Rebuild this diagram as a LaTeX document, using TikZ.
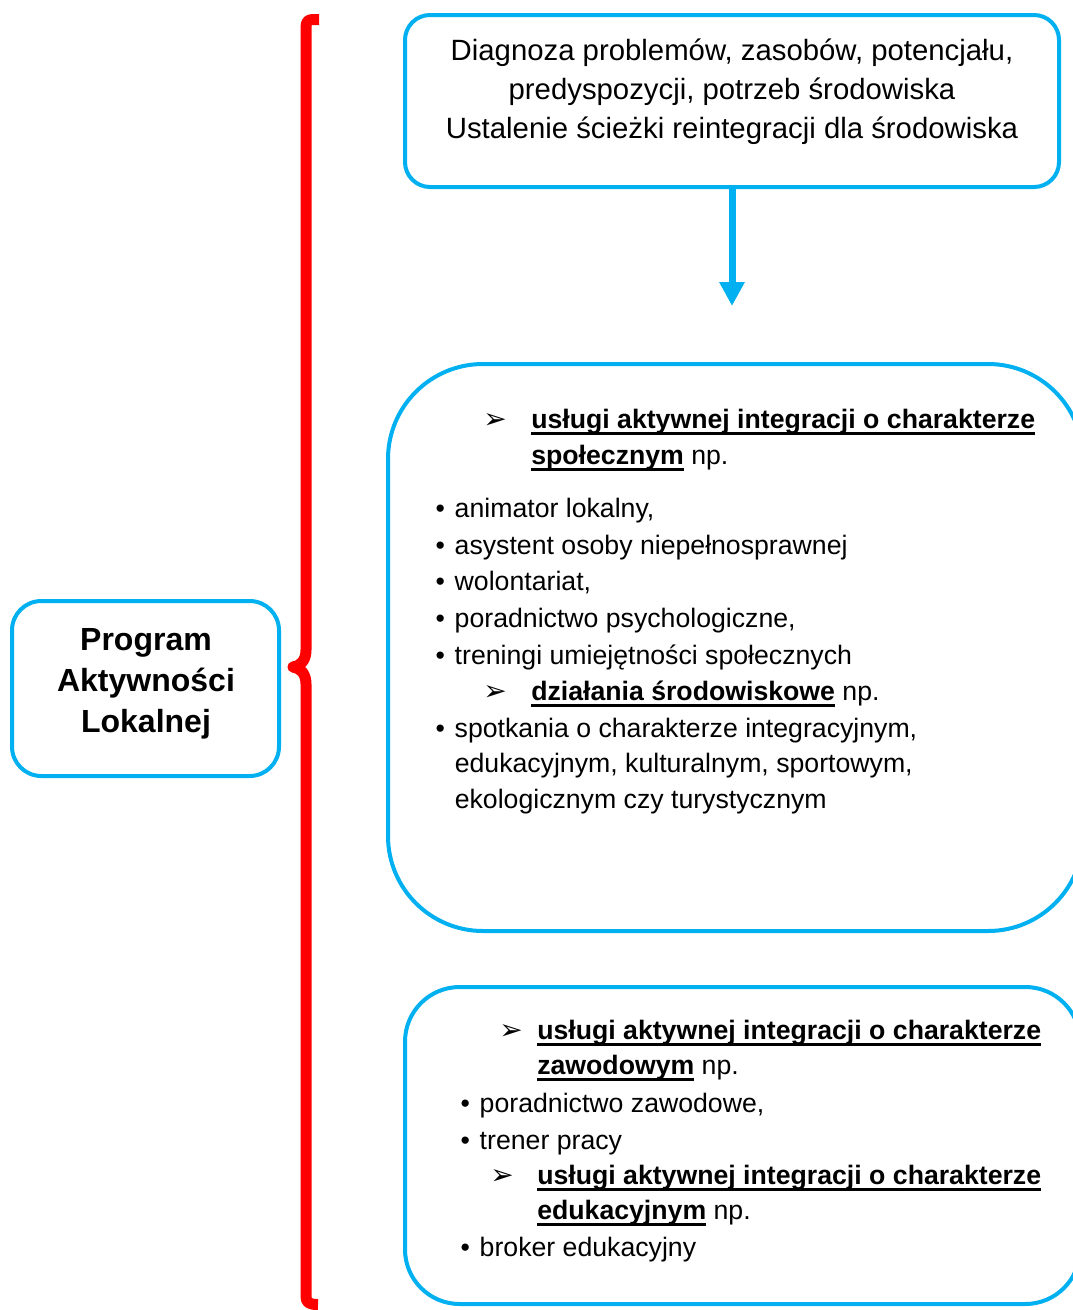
\documentclass[tikz,border=0pt]{standalone}
\usepackage{fontspec}
\setmainfont{Liberation Sans}
\newfontfamily\dv{DejaVu Sans}
\usetikzlibrary{arrows.meta}
\definecolor{cy}{RGB}{0,176,240}
\definecolor{rd}{RGB}{255,0,0}
\newcommand{\arr}{{\dv\fontsize{21}{24}\selectfont ➢}}
\newcommand{\bul}{\makebox[14.4pt][l]{•}}
\newcommand{\hd}[1]{{\bfseries\setbox0\hbox{#1}\rlap{\rule[-5pt]{\wd0}{1.8pt}}\box0}}
\begin{document}
\begin{tikzpicture}[x=0.75pt,y=-0.75pt,
  box/.style={draw=cy, line width=3pt, rounded corners=#1, inner sep=0pt},
  ttop/.style={font=\fontsize{22}{26}\selectfont, inner sep=0pt, anchor=base},
  tleft/.style={font=\fontsize{24}{28}\selectfont\bfseries, inner sep=0pt, anchor=base},
  tl/.style={font=\fontsize{20}{24}\selectfont, inner sep=0pt, anchor=base west},
  ta/.style={inner sep=0pt, anchor=base west}]
\useasboundingbox (0,0) rectangle (1073,1310);
\clip (0,0) rectangle (1073,1310);

% boxes
\node[box=18.75pt, minimum width=490.5pt, minimum height=129pt] (diag) at (732,101) {};
\node[box=22pt, minimum width=200.25pt, minimum height=131.25pt] (pal) at (145.5,688.5) {};
\node[box=71.25pt, minimum width=521.25pt, minimum height=425.25pt] (mid) at (735.5,647.5) {};
\node[box=41pt, minimum width=506.25pt, minimum height=237.75pt] (bot) at (742.5,1145.5) {};

% arrow
\coordinate (arrend) at (732,306);
\draw[cy, line width=5.25pt, -{Triangle[width=18pt,length=18pt]}] (diag.south) -- (arrend);

% brace
\draw[rd, line width=8.25pt, line join=round]
  (319,19.5) -- (313,19.5) .. controls (307.5,19.5) and (306,22) .. (306,28)
  -- (306,650) .. controls (306,661) and (300,666) .. (293,667)
  .. controls (300,668) and (306,673) .. (306,684)
  -- (306,1296) .. controls (306,1302) and (308,1304.5) .. (318,1304.5);

% top box text
\node[ttop] (d1) at (732,60) {Diagnoza problemów, zasobów, potencjału,};
\node[ttop] (d2) at (732,99) {predyspozycji, potrzeb środowiska};
\node[ttop] (d3) at (732,138) {Ustalenie ścieżki reintegracji dla środowiska};

% left box text
\node[tleft] (p1) at (146,650) {Program};
\node[tleft] (p2) at (146,691) {Aktywności};
\node[tleft] (p3) at (146,732) {Lokalnej};

% middle box
\node[ta] (ma1) at (483,428) {\arr};
\node[tl] (mh1) at (531,428) {\hd{usługi aktywnej integracji o charakterze}};
\node[tl] (mh1b) at (531,464) {\hd{społecznym} np.};
\node[tl] (mb1) at (435.3,517) {\bul animator lokalny,};
\node[tl] (mb2) at (435.3,554) {\bul asystent osoby niepełnosprawnej};
\node[tl] (mb3) at (435.3,590) {\bul wolontariat,};
\node[tl] (mb4) at (435.3,627) {\bul poradnictwo psychologiczne,};
\node[tl] (mb5) at (435.3,664) {\bul treningi umiejętności społecznych};
\node[ta] (ma2) at (483,700) {\arr};
\node[tl] (mh2) at (531,700) {\hd{działania środowiskowe} np.};
\node[tl] (mb6) at (435.3,737) {\bul spotkania o charakterze integracyjnym,};
\node[tl] (mb6b) at (454.5,772) {edukacyjnym, kulturalnym, sportowym,};
\node[tl] (mb6c) at (454.5,808) {ekologicznym czy turystycznym};

% bottom box
\node[ta] (ba1) at (499,1039) {\arr};
\node[tl] (bh1) at (537,1039) {\hd{usługi aktywnej integracji o charakterze}};
\node[tl] (bh1b) at (537,1074) {\hd{zawodowym} np.};
\node[tl] (bb1) at (460.3,1112) {\bul poradnictwo zawodowe,};
\node[tl] (bb2) at (460.3,1149) {\bul trener pracy};
\node[ta] (ba2) at (490,1184) {\arr};
\node[tl] (bh2) at (537,1184) {\hd{usługi aktywnej integracji o charakterze}};
\node[tl] (bh2b) at (537,1219) {\hd{edukacyjnym} np.};
\node[tl] (bb3) at (460.3,1256) {\bul broker edukacyjny};
\end{tikzpicture}
\end{document}
